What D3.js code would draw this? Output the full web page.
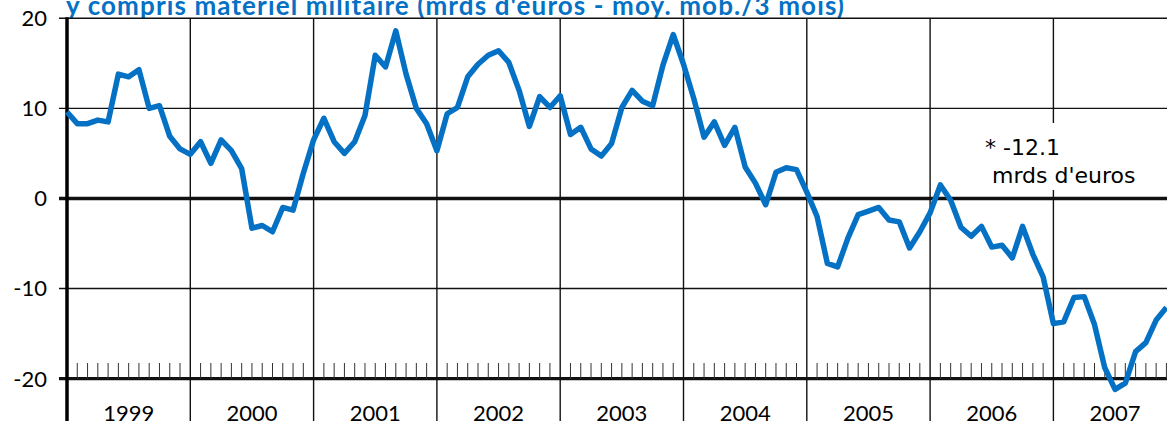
<!DOCTYPE html>
<html>
<head>
<meta charset="utf-8">
<script src="https://cdn.jsdelivr.net/npm/d3@7"></script>
<style>
  html, body { margin: 0; padding: 0; background: #fff; overflow: hidden; }
  svg { display: block; }
</style>
</head>
<body>
<svg id="chart" width="1167" height="421"></svg>
<script>
   // solde commercial, moyenne mobile 3 mois, mensuel de janv. 1999 a dec. 2007
   var years = [1999, 2000, 2001, 2002, 2003, 2004, 2005, 2006, 2007];
   var yTicks = [20, 10, 0, -10, -20];
   var titleText = "y compris matériel militaire (mrds d'euros - moy. mob./3 mois)";
   var noteLines = ["* -12.1", " mrds d'euros"];

   var balance = [
      9.6, 8.3, 8.3, 8.7, 8.5, 13.8, 13.5, 14.3, 10.0, 10.3, 6.9, 5.5,
      4.9, 6.3, 3.9, 6.5, 5.3, 3.3, -3.3, -3.0, -3.7, -1.0, -1.3, 2.8,
      6.5, 8.9, 6.3, 5.0, 6.3, 9.2, 15.9, 14.6, 18.6, 13.8, 10.0, 8.3,
      5.3, 9.4, 10.1, 13.5, 14.9, 15.9, 16.4, 15.1, 12.0, 8.0, 11.3, 10.1,
      11.4, 7.1, 7.9, 5.5, 4.7, 6.1, 10.1, 12.0, 10.8, 10.3, 14.8, 18.2,
      14.9, 11.1, 6.8, 8.5, 5.9, 7.9, 3.5, 1.7, -0.7, 2.9, 3.4, 3.2,
      0.7, -2.0, -7.2, -7.6, -4.4, -1.8, -1.4, -1.0, -2.4, -2.6, -5.5, -3.7,
      -1.6, 1.5, -0.2, -3.2, -4.2, -3.1, -5.4, -5.2, -6.6, -3.1, -6.2, -8.7,
      -13.9, -13.7, -11.0, -10.9, -14.0, -18.8, -21.2, -20.5, -17.0, -16.0, -13.5, -12.1
   ];

   var svg = d3.select("#chart");
   var blue = "#0571c4";
   var font = "Lato, 'Noto Sans', sans-serif";

   var left = 67, yearWidth = 123.3;
   var x = d3.scaleLinear()
      .domain([0, years.length * 12])
      .range([left, left + yearWidth * years.length]);
   var y = d3.scaleLinear()
      .domain([-20, 20])
      .range([378.6, 18.3]);

   // titre (coupe en haut comme l'original)
   svg.append("text")
      .attr("x", 66)
      .attr("y", 15)
      .attr("fill", blue)
      .attr("textLength", 778)
      .attr("lengthAdjust", "spacing")
      .style("font-family", font)
      .style("font-weight", "bold")
      .style("font-size", "26px")
      .text(titleText);

   // lignes horizontales
   svg.selectAll("line.hgrid")
      .data(yTicks)
      .enter()
      .append("line")
      .attr("class", "hgrid")
      .attr("x1", 59)
      .attr("x2", 1167)
      .attr("y1", function(d) { return y(d); })
      .attr("y2", function(d) { return y(d); })
      .attr("stroke", "#111")
      .attr("stroke-width", function(d) { return (d == 0 || d == -20) ? 3.4 : 1.4; });

   // petites marques mensuelles
   var monthTicks = d3.range(1, years.length * 12).filter(function(m) { return m % 12 != 0; });
   svg.selectAll("line.mtick")
      .data(monthTicks)
      .enter()
      .append("line")
      .attr("class", "mtick")
      .attr("x1", function(d) { return x(d); })
      .attr("x2", function(d) { return x(d); })
      .attr("y1", 363)
      .attr("y2", y(-20))
      .attr("stroke", "#333")
      .attr("stroke-width", 1);

   // separations des annees
   svg.selectAll("line.vgrid")
      .data(d3.range(1, years.length + 1))
      .enter()
      .append("line")
      .attr("class", "vgrid")
      .attr("x1", function(d) { return x(d * 12); })
      .attr("x2", function(d) { return x(d * 12); })
      .attr("y1", y(20))
      .attr("y2", 421)
      .attr("stroke", "#111")
      .attr("stroke-width", 1.4);

   // axe de gauche
   svg.append("line")
      .attr("x1", left).attr("x2", left)
      .attr("y1", y(20) - 1).attr("y2", 421)
      .attr("stroke", "#000")
      .attr("stroke-width", 3.5);

   // etiquettes y
   svg.selectAll("text.ylab")
      .data(yTicks)
      .enter()
      .append("text")
      .attr("class", "ylab")
      .attr("x", 47)
      .attr("y", function(d) { return y(d); })
      .attr("dy", "0.36em")
      .attr("text-anchor", "end")
      .style("font-family", font)
      .style("font-size", "22px")
      .text(function(d) { return d; });

   // etiquettes annees
   svg.selectAll("text.xlab")
      .data(years)
      .enter()
      .append("text")
      .attr("class", "xlab")
      .attr("x", function(d, i) { return x(i * 12 + 6); })
      .attr("y", 421)
      .attr("text-anchor", "middle")
      .style("font-family", font)
      .style("font-size", "22px")
      .text(function(d) { return d; });

   // note avec fond blanc
   svg.append("rect")
      .attr("x", 982).attr("y", 123)
      .attr("width", 164).attr("height", 67)
      .attr("fill", "#fff");
   svg.selectAll("text.note")
      .data(noteLines)
      .enter()
      .append("text")
      .attr("class", "note")
      .attr("x", 985)
      .attr("y", function(d, i) { return 155 + i * 28; })
      .attr("xml:space", "preserve")
      .style("white-space", "pre")
      .style("font-family", "'DejaVu Sans', sans-serif")
      .style("font-size", "22px")
      .text(function(d) { return d; });

   // courbe
   var line = d3.line()
      .x(function(d, i) { return x(i); })
      .y(function(d) { return y(d); });
   svg.append("path")
      .datum(balance)
      .attr("d", line)
      .attr("fill", "none")
      .attr("stroke", blue)
      .attr("stroke-width", 5.5)
      .attr("stroke-linejoin", "round");
</script>
</body>
</html>
